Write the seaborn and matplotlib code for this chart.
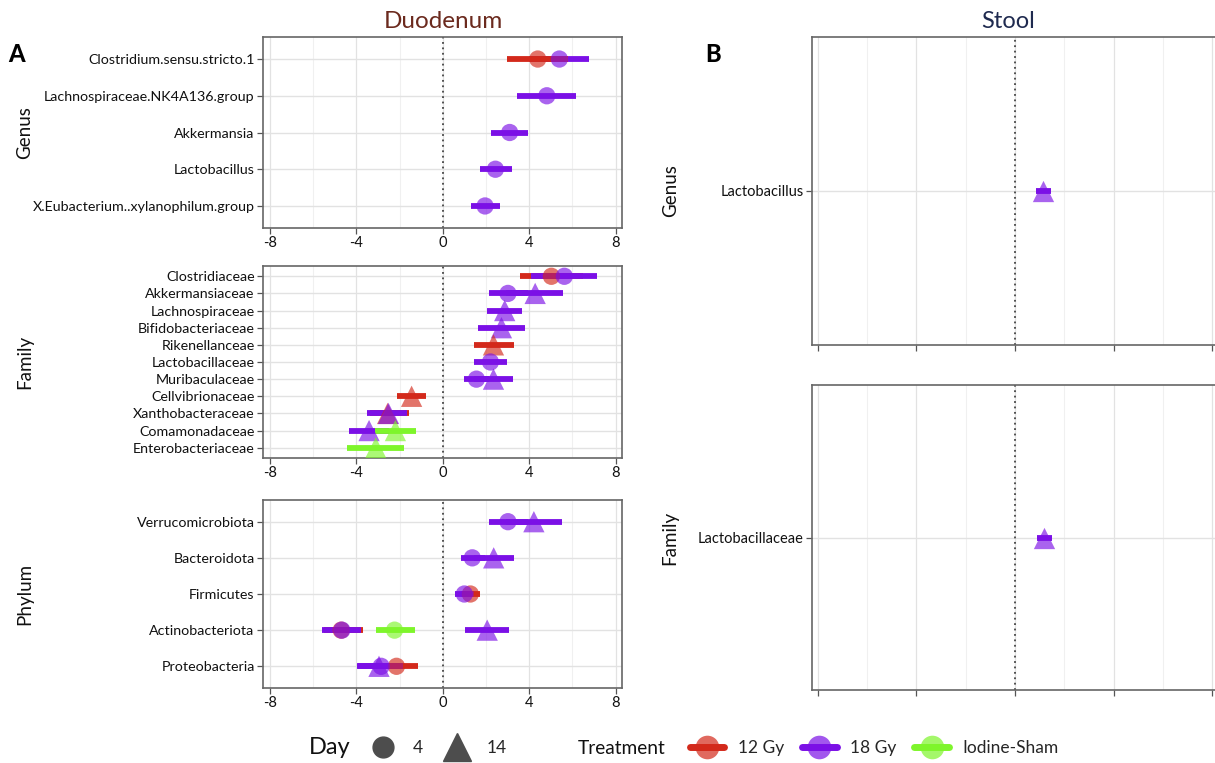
import numpy as np
import pandas as pd
import matplotlib
matplotlib.use("Agg")
import matplotlib.pyplot as plt
import seaborn as sns
from matplotlib.lines import Line2D
from matplotlib.colors import to_rgba

# ---- data (log fold change with CI) ----
panel = ["dg"] * 6 + ["df"] * 16 + ["dp"] * 13 + ["sg", "sf"]
taxon = [
    "Clostridium.sensu.stricto.1", "Clostridium.sensu.stricto.1", "Lachnospiraceae.NK4A136.group",
    "Akkermansia", "Lactobacillus", "X.Eubacterium..xylanophilum.group",
    "Clostridiaceae", "Clostridiaceae", "Akkermansiaceae", "Akkermansiaceae", "Lachnospiraceae",
    "Bifidobacteriaceae", "Rikenellanceae", "Lactobacillaceae", "Muribaculaceae", "Muribaculaceae",
    "Cellvibrionaceae", "Xanthobacteraceae", "Xanthobacteraceae", "Comamonadaceae", "Comamonadaceae",
    "Enterobacteriaceae",
    "Verrucomicrobiota", "Verrucomicrobiota", "Bacteroidota", "Bacteroidota", "Firmicutes", "Firmicutes",
    "Actinobacteriota", "Actinobacteriota", "Actinobacteriota", "Actinobacteriota",
    "Proteobacteria", "Proteobacteria", "Proteobacteria",
    "Lactobacillus", "Lactobacillaceae",
]
treatment = [
    "18 Gy", "12 Gy", "18 Gy", "18 Gy", "18 Gy", "18 Gy",
    "12 Gy", "18 Gy", "18 Gy", "18 Gy", "18 Gy", "18 Gy", "12 Gy", "18 Gy", "18 Gy", "18 Gy",
    "12 Gy", "12 Gy", "18 Gy", "18 Gy", "Iodine-Sham", "Iodine-Sham",
    "18 Gy", "18 Gy", "18 Gy", "18 Gy", "12 Gy", "18 Gy", "12 Gy", "18 Gy", "Iodine-Sham", "18 Gy",
    "12 Gy", "18 Gy", "18 Gy",
    "18 Gy", "18 Gy",
]
day = [4, 4, 4, 4, 4, 4,
       4, 4, 4, 14, 14, 14, 14, 4, 4, 14, 14, 14, 14, 14, 14, 14,
       4, 14, 4, 14, 4, 4, 4, 4, 4, 14, 4, 14, 4,
       14, 14]
lfc = [5.40, 4.40, 4.82, 3.10, 2.44, 1.96,
       5.03, 5.63, 3.02, 4.28, 2.87, 2.72, 2.35, 2.21, 1.56, 2.35, -1.44, -2.55, -2.51, -3.41, -2.19, -3.10,
       3.02, 4.22, 1.37, 2.36, 1.28, 1.00, -4.70, -4.67, -2.23, 2.06, -2.14, -2.95, -2.85,
       1.15, 1.19]
ci_lo = [4.00, 2.97, 3.45, 2.25, 1.71, 1.30,
         3.56, 4.09, 2.12, 2.95, 2.06, 1.65, 1.43, 1.43, 1.00, 1.45, -2.10, -3.35, -3.50, -4.35, -3.13, -4.45,
         2.12, 2.95, 0.84, 1.45, 0.85, 0.56, -5.50, -5.60, -3.10, 1.05, -3.10, -3.98, -3.90,
         0.85, 0.90]
ci_hi = [6.78, 5.80, 6.15, 3.96, 3.20, 2.63,
         6.50, 7.15, 3.95, 5.59, 3.68, 3.81, 3.30, 2.96, 2.15, 3.25, -0.79, -1.54, -1.65, -2.50, -1.22, -1.78,
         3.95, 5.53, 1.95, 3.28, 1.71, 1.46, -3.70, -3.79, -1.29, 3.06, -1.13, -1.90, -1.82,
         1.45, 1.50]

genus_order = ["Clostridium.sensu.stricto.1", "Lachnospiraceae.NK4A136.group", "Akkermansia",
               "Lactobacillus", "X.Eubacterium..xylanophilum.group"]
family_order = ["Clostridiaceae", "Akkermansiaceae", "Lachnospiraceae", "Bifidobacteriaceae",
                "Rikenellanceae", "Lactobacillaceae", "Muribaculaceae", "Cellvibrionaceae",
                "Xanthobacteraceae", "Comamonadaceae", "Enterobacteriaceae"]
phylum_order = ["Verrucomicrobiota", "Bacteroidota", "Firmicutes", "Actinobacteriota", "Proteobacteria"]

x_ticks = [-8, -4, 0, 4, 8]
treat_colors = {"12 Gy": "#D3291B", "18 Gy": "#7B10E6", "Iodine-Sham": "#7EF52B"}

df = pd.DataFrame({"panel": panel, "taxon": taxon, "treatment": treatment, "day": day,
                   "lfc": lfc, "lo": ci_lo, "hi": ci_hi})

sns.set_theme(style="white")
plt.rcParams["font.family"] = ["Lato", "DejaVu Sans"]

W, H = 1215, 763
fig = plt.figure(figsize=(W / 100, H / 100), dpi=100)


def box(l, t, r, b):
    return [l / W, 1 - b / H, (r - l) / W, (b - t) / H]


def draw_panel(rect, key, order, ylabel, label_x, xlim, show_xlabels, tick_fs):
    ax = fig.add_axes(rect)
    sub = df[df.panel == key].copy()
    sub["y"] = sub.taxon.map({t: i for i, t in enumerate(order)})

    # grid
    for v in [-6, -2, 2, 6]:
        ax.axvline(v, color="#F0F0F0", lw=0.8, zorder=0)
    for v in x_ticks:
        ax.axvline(v, color="#E2E2E2", lw=0.9, zorder=0)
    for i in range(len(order)):
        ax.axhline(i, color="#E2E2E2", lw=1.0, zorder=0)
    ax.axvline(0, color="#444444", ls=(0, (1, 2)), lw=1.3, zorder=1)

    # confidence bars in data order
    for _, r in sub.iterrows():
        ax.hlines(r.y, r.lo, r.hi, color=treat_colors[r.treatment], lw=4.2, zorder=2)

    sns.scatterplot(data=sub, x="lfc", y="y", hue="treatment", style="day", size="day",
                    palette=treat_colors, markers={4: "o", 14: "^"}, sizes={4: 155, 14: 235},
                    alpha=0.65, linewidth=0, legend=False, ax=ax, zorder=3)

    ax.set_xlim(*xlim)
    ax.set_ylim(len(order) - 0.4, -0.6)
    ax.set_xticks(x_ticks)
    ax.set_xticklabels([str(v) for v in x_ticks] if show_xlabels else [])
    ax.set_yticks(range(len(order)))
    ax.set_yticklabels(order)
    ax.tick_params(axis="both", length=4, width=0.9, color="#555555", labelcolor="#111111",
                   labelsize=tick_fs, pad=2, direction="out", bottom=True, left=True)
    ax.tick_params(axis="x", labelsize=10.5)
    ax.set_xlabel("")
    ax.set_ylabel(ylabel, fontsize=13.5, color="#111111")
    ax.yaxis.set_label_coords(label_x, 0.5)
    for s in ax.spines.values():
        s.set_color("#666666")
        s.set_linewidth(1.2)
    return ax


left_xlim = (-8.32, 8.3)
ax1 = draw_panel(box(263, 37, 622, 228), "dg", genus_order, "Genus", -0.64, left_xlim, True, 10.3)
ax1.set_ylim(4.6, -0.6)
ax2 = draw_panel(box(263, 266, 622, 458), "df", family_order, "Family", -0.64, left_xlim, True, 10.3)
ax3 = draw_panel(box(263, 500, 622, 688), "dp", phylum_order, "Phylum", -0.64, left_xlim, True, 10.3)
ax3.set_ylim(4.6, -0.6)

right_xlim = (-8.24, 8.4)
ax4 = draw_panel(box(812, 37, 1222, 345), "sg", ["Lactobacillus"], "Genus", -0.325, right_xlim, False, 10.5)
ax4.set_ylim(0.6, -0.6)
ax5 = draw_panel(box(812, 385, 1222, 690), "sf", ["Lactobacillaceae"], "Family", -0.325, right_xlim, False, 10.5)
ax5.set_ylim(0.6, -0.6)

# titles and panel letters
fig.text(443 / W, 1 - 22 / H, "Duodenum", ha="center", va="center", fontsize=17.5, color="#6B2A1E")
fig.text(1008 / W, 1 - 22 / H, "Stool", ha="center", va="center", fontsize=17, color="#1F2A4F")
fig.text(8 / W, 1 - 55 / H, "A", ha="left", va="center", fontsize=17, fontweight="black", color="black")
fig.text(705 / W, 1 - 55 / H, "B", ha="left", va="center", fontsize=17, fontweight="black", color="black")

# legend: Day
fig.text(309 / W, 1 - 748 / H, "Day", ha="left", va="center", fontsize=17, color="#111111")
day_handles = [Line2D([], [], marker="o", ls="", color="#4D4D4D", ms=15),
               Line2D([], [], marker="^", ls="", color="#4D4D4D", ms=20)]
leg1 = fig.legend(day_handles, ["4", "14"], loc="center left", bbox_to_anchor=(350 / W, 1 - 748 / H),
                  ncol=2, frameon=False, fontsize=12.5, handletextpad=0.7, columnspacing=1.0,
                  handlelength=2.0)

# legend: Treatment
fig.text(578 / W, 1 - 748 / H, "Treatment", ha="left", va="center", fontsize=13.8, color="#111111")
treat_handles = [Line2D([], [], color=c, lw=5, marker="o", ms=17, markeredgewidth=0,
                        markerfacecolor=to_rgba(c, 0.7))
                 for c in treat_colors.values()]
leg2 = fig.legend(treat_handles, list(treat_colors.keys()), loc="center left",
                  bbox_to_anchor=(674 / W, 1 - 748 / H), ncol=3, frameon=False, fontsize=12.5,
                  handletextpad=0.8, columnspacing=1.0, handlelength=2.0, numpoints=1)

fig.savefig("out.png", dpi=100)
